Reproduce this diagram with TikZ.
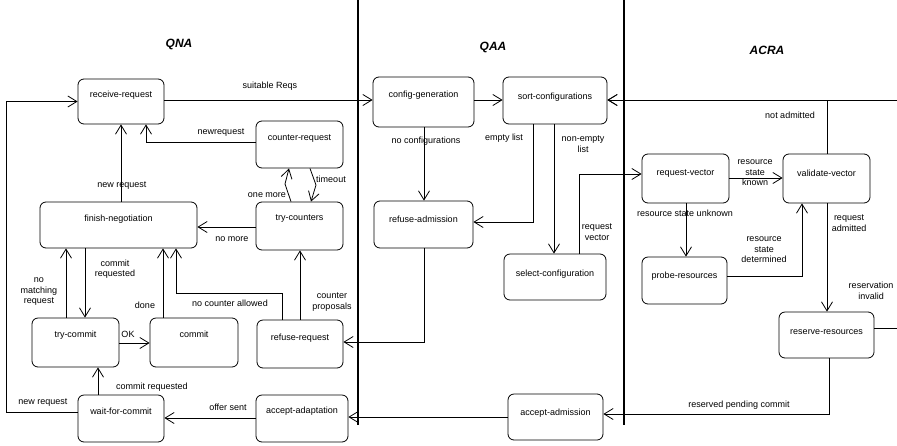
\documentclass[tikz,border=0pt]{standalone}
\usepackage{fontspec}
\setmainfont{Liberation Sans}
\usetikzlibrary{arrows.meta}
\tikzset{
  st/.style={draw, rounded corners=6pt, line width=0.8pt, inner sep=0pt},
  arr/.style={line width=0.8pt, -{Straight Barb[length=9pt,width=11pt,line width=0.8pt]}},
  lbl/.style={font=\fontsize{9}{10.5}\selectfont, inner sep=0pt, align=center},
  every label/.style={font=\fontsize{9}{10.5}\selectfont, inner sep=0pt},
  lane/.style={line width=1.2pt},
  title/.style={font=\fontsize{12}{14}\selectfont\bfseries\itshape, inner sep=0pt}
}
\begin{document}
\begin{tikzpicture}[x=1pt,y=-1pt]
\useasboundingbox (0,0) rectangle (897,445);
\clip (0,0) rectangle (897,445);
% lanes
\draw[lane] (358,0) -- (358,425);
\draw[lane] (624,0) -- (624,425);
\node[title] (tqna) at (179,44) {QNA};
\node[title] (tqaa) at (493,47) {QAA};
\node[title] (tacra) at (767,50) {ACRA};
% states QNA
\node[st, minimum width=86pt, minimum height=45pt, label={[yshift=6pt]center:receive-request}] (rr) at (121,101.5) {};
\node[st, minimum width=87pt, minimum height=47pt, label={[yshift=6pt]center:counter-request}] (cr) at (299.5,144.5) {};
\node[st, minimum width=157pt, minimum height=46pt, label={[yshift=6pt]center:finish-negotiation}] (fn) at (118.5,225) {};
\node[st, minimum width=87pt, minimum height=48pt, label={[yshift=7pt]center:try-counters}] (tc) at (299.5,226) {};
\node[st, minimum width=87pt, minimum height=49pt, label={[yshift=7pt]center:try-commit}] (tcm) at (75.5,342.5) {};
\node[st, minimum width=88pt, minimum height=49pt, label={[yshift=8pt]center:commit}] (cm) at (194,342.5) {};
\node[st, minimum width=86pt, minimum height=48pt, label={[yshift=6pt]center:refuse-request}] (rq) at (300,344) {};
\node[st, minimum width=86pt, minimum height=47pt, label={[yshift=7pt]center:wait-for-commit}] (wc) at (121,418.5) {};
\node[st, minimum width=92pt, minimum height=47pt, label={[yshift=7pt]center:accept-adaptation}] (aa) at (302,418.5) {};
% states QAA
\node[st, minimum width=101pt, minimum height=50pt, label={[yshift=7pt]center:config-generation}] (cg) at (423.5,102) {};
\node[st, minimum width=104pt, minimum height=47pt, label={[yshift=3pt]center:sort-configurations}] (sc) at (555,100.5) {};
\node[st, minimum width=99pt, minimum height=47pt, label={[yshift=5pt]center:refuse-admission}] (ra) at (423.5,224.5) {};
\node[st, minimum width=102pt, minimum height=46pt, label={[yshift=3pt]center:select-configuration}] (sel) at (555,277) {};
\node[st, minimum width=95pt, minimum height=46pt, label={[yshift=4pt]center:accept-admission}] (aad) at (555.5,417) {};
% states ACRA
\node[st, minimum width=87pt, minimum height=49pt, label={[yshift=5pt]center:request-vector}] (rv) at (685.5,178.5) {};
\node[st, minimum width=87pt, minimum height=49pt, label={[yshift=5pt]center:validate-vector}] (vv) at (826.5,178.5) {};
\node[st, minimum width=85pt, minimum height=47pt, label={[yshift=4.5pt]center:probe-resources}] (pr) at (684.5,280.5) {};
\node[st, minimum width=95pt, minimum height=46pt, label={[yshift=3pt]center:reserve-resources}] (rs) at (826.5,335) {};
% connectors QNA
\draw[arr] (wc.west |- 0,412) -| (6,101.5) -- (rr.west);
\node[lbl] (l1) at (43,403) {new request};
\draw[arr] (rr.east |- 0,100) -- (cg.west |- 0,100);
\node[lbl] (l2) at (270,86) {suitable Reqs};
\draw[arr] (cr.west |- 0,142) -| (rr.south -| 146,0);
\node[lbl] (l3) at (221,133) {newrequest};
\draw[arr] (fn.north -| 121,0) -- (rr.south -| 121,0);
\node[lbl] (l4) at (122,186) {new request};
\draw[arr] (tc.north -| 291,0) -- (285,184) -- (cr.south -| 289,0);
\node[lbl] (l5) at (267,195) {one more};
\draw[arr] (cr.south -| 310,0) -- (316,185) -- (tc.north -| 311,0);
\node[lbl] (l6) at (331,179) {timeout};
\draw[arr] (tc.west |- 0,227) -- (fn.east |- 0,227);
\node[lbl] (l7) at (232,239) {no more};
\draw[arr] (fn.south -| 85,0) -- (tcm.north -| 85,0);
\node[lbl] (l8) at (115,269) {commit\\requested};
\draw[arr] (tcm.north -| 66,0) -- (fn.south -| 66,0);
\node[lbl] (l9) at (39,292) {no\\matching\\request};
\draw[arr] (cm.north -| 163,0) -- (fn.south -| 163,0);
\node[lbl] (l10) at (145,305) {done};
\draw[arr] (rq.north -| 282,0) |- (176,293) -- (fn.south -| 176,0);
\node[lbl] (l11) at (230,303) {no counter allowed};
\draw[arr] (rq.north -| 300,0) -- (tc.south -| 300,0);
\node[lbl] (l12) at (332,302) {counter\\proposals};
\draw[arr] (tcm.east |- 0,343) -- (cm.west |- 0,343);
\node[lbl] (l13) at (128,334) {OK};
\draw[arr] (wc.north -| 98,0) -- (tcm.south -| 98,0);
\node[lbl] (l14) at (152,387) {commit requested};
\draw[arr] (aa.west |- 0,418) -- (wc.east |- 0,418);
\node[lbl] (l15) at (228,407) {offer sent};
% connectors QAA
\draw[arr] (cg.east |- 0,100) -- (sc.west |- 0,100);
\draw[arr] (rs.east |- 0,328) -- (905,328) |- (sc.east |- 0,100);
\draw[arr] (vv.north -| 827,0) |- (sc.east |- 0,100);
\node[lbl] (l16) at (790,115) {not admitted};
\node[lbl] (l17) at (871,291) {reservation\\invalid};
\draw[arr] (sc.south -| 533,0) |- (ra.east |- 0,222);
\node[lbl] (l18) at (504,138) {empty list};
\draw[arr] (cg.south -| 424,0) -- (ra.north -| 424,0);
\node[lbl] (l19) at (426,141) {no configurations};
\draw[arr] (sc.south -| 554,0) -- (sel.north -| 554,0);
\node[lbl] (l20) at (583,144) {non-empty\\list};
\draw[arr] (ra.south -| 424,0) |- (rq.east |- 0,342);
\draw[arr] (sel.north -| 579,0) |- (rv.west |- 0,174);
\node[lbl] (l21) at (597,232) {request\\vector};
% connectors ACRA
\draw[arr] (rv.east |- 0,178) -- (vv.west |- 0,178);
\node[lbl] (l22) at (755,173) {resource\\state\\known};
\draw[arr] (rv.south -| 686,0) -- (pr.north -| 686,0);
\node[lbl] (l23) at (685,213) {resource state unknown};
\draw[arr] (pr.east |- 0,276) -| (vv.south -| 802,0);
\node[lbl] (l24) at (764,250) {resource\\state\\determined};
\draw[arr] (vv.south -| 827,0) -- (rs.north -| 827,0);
\node[lbl] (l25) at (849,223) {request\\admitted};
\draw[arr] (rs.south -| 829,0) |- (aad.east |- 0,414);
\node[lbl] (l26) at (739,405) {reserved pending commit};
\draw[arr] (aad.west |- 0,417) -- (aa.east |- 0,417);
\end{tikzpicture}
\end{document}
